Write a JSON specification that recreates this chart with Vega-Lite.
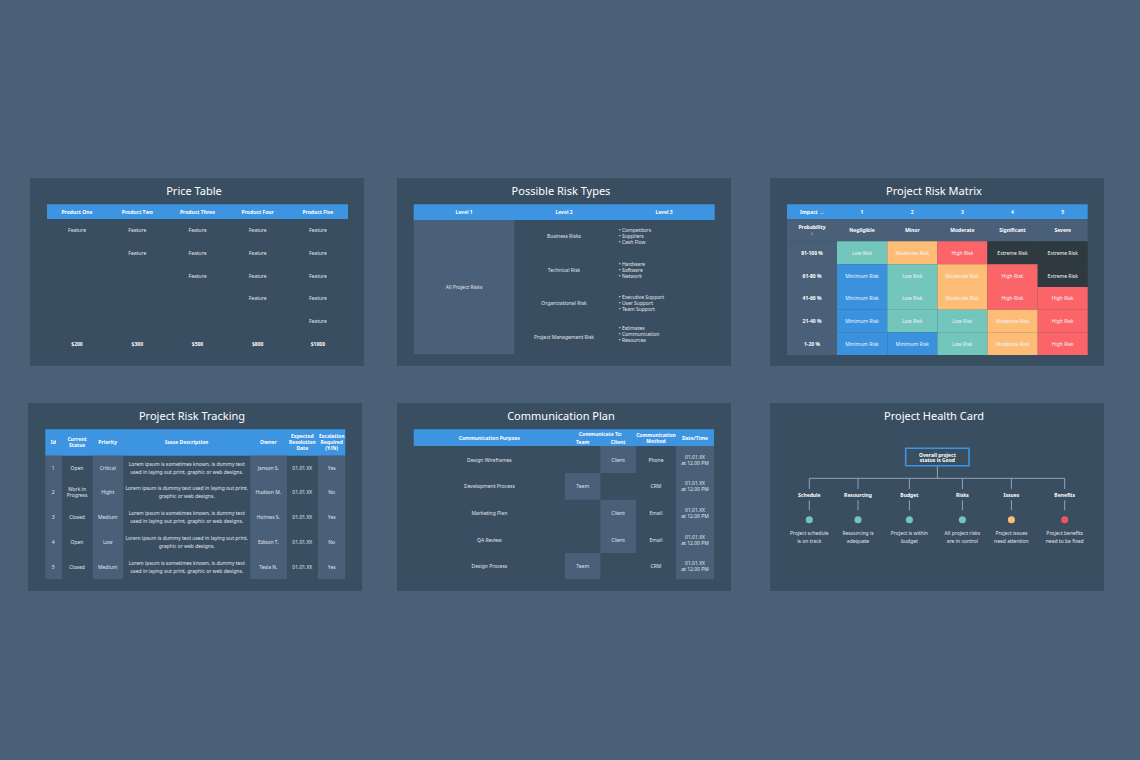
{
  "$schema": "https://vega.github.io/schema/vega-lite/v6.json",
  "background": "#4a6076",
  "padding": {"left": 28, "top": 178, "right": 36, "bottom": 169},
  "spacing": 37,
  "config": {
    "view": {"stroke": null},
    "title": {"font": "Noto Sans", "fontSize": 11, "fontWeight": "normal", "color": "#ffffff", "anchor": "middle", "offset": -18.5, "dx": -3},
    "text": {"font": "Noto Sans", "fontSize": 5, "baseline": "middle", "align": "center", "lineBreak": "\n", "lineHeight": 6, "color": "#e0e6ec"},
    "style": {
      "strong": {"fontWeight": "bold", "color": "#ffffff"},
      "wide": {"lineHeight": 8, "dy": -4},
      "twoLines": {"dy": -3},
      "threeLines": {"dy": -6},
      "list": {"align": "left", "dy": -6},
      "boxed": {"lineHeight": 5, "dy": -2.5},
      "onColour": {"color": "#f2f5f8"}
    }
  },
  "datasets": {
    "priceCells": [
      {"col": -1, "colEnd": 11, "row": -1, "rowEnd": 9, "tone": "slide"},
      {"col": 0, "colEnd": 10, "row": 0, "rowEnd": 2, "tone": "header"}
    ],
    "priceText": [
      {"col": 1, "row": 3, "label": "Feature"},
      {"col": 3, "row": 3, "label": "Feature"},
      {"col": 3, "row": 4, "label": "Feature"},
      {"col": 5, "row": 3, "label": "Feature"},
      {"col": 5, "row": 4, "label": "Feature"},
      {"col": 5, "row": 5, "label": "Feature"},
      {"col": 7, "row": 3, "label": "Feature"},
      {"col": 7, "row": 4, "label": "Feature"},
      {"col": 7, "row": 5, "label": "Feature"},
      {"col": 7, "row": 6, "label": "Feature"},
      {"col": 9, "row": 3, "label": "Feature"},
      {"col": 9, "row": 4, "label": "Feature"},
      {"col": 9, "row": 5, "label": "Feature"},
      {"col": 9, "row": 6, "label": "Feature"},
      {"col": 9, "row": 7, "label": "Feature"}
    ],
    "priceStrong": [
      {"col": 1, "row": 1, "label": "Product One"},
      {"col": 3, "row": 1, "label": "Product Two"},
      {"col": 5, "row": 1, "label": "Product Three"},
      {"col": 7, "row": 1, "label": "Product Four"},
      {"col": 9, "row": 1, "label": "Product Five"},
      {"col": 1, "row": 8, "label": "$200"},
      {"col": 3, "row": 8, "label": "$300"},
      {"col": 5, "row": 8, "label": "$500"},
      {"col": 7, "row": 8, "label": "$800"},
      {"col": 9, "row": 8, "label": "$1000"}
    ],
    "typeCells": [
      {"col": -1, "colEnd": 8, "row": -1, "rowEnd": 10, "tone": "slide"},
      {"col": 0, "colEnd": 7, "row": 0, "rowEnd": 2, "tone": "header"},
      {"col": 0, "colEnd": 2, "row": 2, "rowEnd": 9, "tone": "shade"}
    ],
    "typeText": [
      {"col": 1, "row": 5, "label": "All Project Risks"},
      {"col": 3, "row": 3, "label": "Business Risks"},
      {"col": 3, "row": 4, "label": "Technical Risk"},
      {"col": 3, "row": 6, "label": "Organizational Risk"},
      {"col": 3, "row": 8, "label": "Project Management Risk"}
    ],
    "typeList": [
      {"col": 5, "row": 3, "label": "• Competitors\n• Suppliers\n• Cash Flow"},
      {"col": 5, "row": 4, "label": "• Hardware\n• Software\n• Network"},
      {"col": 5, "row": 6, "label": "• Executive Support\n• User Support\n• Team Support"},
      {"col": 5, "row": 7, "label": "• Estimates\n• Communication\n• Resources"}
    ],
    "typeStrong": [
      {"col": 1, "row": 1, "label": "Level 1"},
      {"col": 3, "row": 1, "label": "Level 2"},
      {"col": 6, "row": 1, "label": "Level 3"}
    ],
    "matrixCells": [
      {"col": -1, "colEnd": 13, "row": -1, "rowEnd": 15, "tone": "slide"},
      {"col": 0, "colEnd": 12, "row": 0, "rowEnd": 2, "tone": "header"},
      {"col": 0, "colEnd": 12, "row": 2, "rowEnd": 4, "tone": "shade"},
      {"col": 0, "colEnd": 2, "row": 4, "rowEnd": 14, "tone": "shade"},
      {"col": 2, "colEnd": 4, "row": 4, "rowEnd": 6, "tone": "low"},
      {"col": 4, "colEnd": 6, "row": 4, "rowEnd": 6, "tone": "moderate"},
      {"col": 6, "colEnd": 8, "row": 4, "rowEnd": 6, "tone": "high"},
      {"col": 8, "colEnd": 10, "row": 4, "rowEnd": 6, "tone": "extreme"},
      {"col": 10, "colEnd": 12, "row": 4, "rowEnd": 6, "tone": "extreme"},
      {"col": 2, "colEnd": 4, "row": 6, "rowEnd": 8, "tone": "minimum"},
      {"col": 4, "colEnd": 6, "row": 6, "rowEnd": 8, "tone": "low"},
      {"col": 6, "colEnd": 8, "row": 6, "rowEnd": 8, "tone": "moderate"},
      {"col": 8, "colEnd": 10, "row": 6, "rowEnd": 8, "tone": "high"},
      {"col": 10, "colEnd": 12, "row": 6, "rowEnd": 8, "tone": "extreme"},
      {"col": 2, "colEnd": 4, "row": 8, "rowEnd": 10, "tone": "minimum"},
      {"col": 4, "colEnd": 6, "row": 8, "rowEnd": 10, "tone": "low"},
      {"col": 6, "colEnd": 8, "row": 8, "rowEnd": 10, "tone": "moderate"},
      {"col": 8, "colEnd": 10, "row": 8, "rowEnd": 10, "tone": "high"},
      {"col": 10, "colEnd": 12, "row": 8, "rowEnd": 10, "tone": "high"},
      {"col": 2, "colEnd": 4, "row": 10, "rowEnd": 12, "tone": "minimum"},
      {"col": 4, "colEnd": 6, "row": 10, "rowEnd": 12, "tone": "low"},
      {"col": 6, "colEnd": 8, "row": 10, "rowEnd": 12, "tone": "low"},
      {"col": 8, "colEnd": 10, "row": 10, "rowEnd": 12, "tone": "moderate"},
      {"col": 10, "colEnd": 12, "row": 10, "rowEnd": 12, "tone": "high"},
      {"col": 2, "colEnd": 4, "row": 12, "rowEnd": 14, "tone": "minimum"},
      {"col": 4, "colEnd": 6, "row": 12, "rowEnd": 14, "tone": "minimum"},
      {"col": 6, "colEnd": 8, "row": 12, "rowEnd": 14, "tone": "low"},
      {"col": 8, "colEnd": 10, "row": 12, "rowEnd": 14, "tone": "moderate"},
      {"col": 10, "colEnd": 12, "row": 12, "rowEnd": 14, "tone": "high"}
    ],
    "matrixText": [
      {"col": 3, "row": 5, "label": "Low Risk"},
      {"col": 5, "row": 5, "label": "Moderate Risk"},
      {"col": 7, "row": 5, "label": "High Risk"},
      {"col": 9, "row": 5, "label": "Extreme Risk"},
      {"col": 11, "row": 5, "label": "Extreme Risk"},
      {"col": 3, "row": 7, "label": "Minimum Risk"},
      {"col": 5, "row": 7, "label": "Low Risk"},
      {"col": 7, "row": 7, "label": "Moderate Risk"},
      {"col": 9, "row": 7, "label": "High Risk"},
      {"col": 11, "row": 7, "label": "Extreme Risk"},
      {"col": 3, "row": 9, "label": "Minimum Risk"},
      {"col": 5, "row": 9, "label": "Low Risk"},
      {"col": 7, "row": 9, "label": "Moderate Risk"},
      {"col": 9, "row": 9, "label": "High Risk"},
      {"col": 11, "row": 9, "label": "High Risk"},
      {"col": 3, "row": 11, "label": "Minimum Risk"},
      {"col": 5, "row": 11, "label": "Low Risk"},
      {"col": 7, "row": 11, "label": "Low Risk"},
      {"col": 9, "row": 11, "label": "Moderate Risk"},
      {"col": 11, "row": 11, "label": "High Risk"},
      {"col": 3, "row": 13, "label": "Minimum Risk"},
      {"col": 5, "row": 13, "label": "Minimum Risk"},
      {"col": 7, "row": 13, "label": "Low Risk"},
      {"col": 9, "row": 13, "label": "Moderate Risk"},
      {"col": 11, "row": 13, "label": "High Risk"}
    ],
    "matrixStrong": [
      {"col": 1, "row": 1, "label": "Impact →"},
      {"col": 3, "row": 1, "label": "1"},
      {"col": 5, "row": 1, "label": "2"},
      {"col": 7, "row": 1, "label": "3"},
      {"col": 9, "row": 1, "label": "4"},
      {"col": 11, "row": 1, "label": "5"},
      {"col": 3, "row": 3, "label": "Negligible"},
      {"col": 5, "row": 3, "label": "Minor"},
      {"col": 7, "row": 3, "label": "Moderate"},
      {"col": 9, "row": 3, "label": "Significant"},
      {"col": 11, "row": 3, "label": "Severe"},
      {"col": 1, "row": 5, "label": "81-100 %"},
      {"col": 1, "row": 7, "label": "61-80 %"},
      {"col": 1, "row": 9, "label": "41-60 %"},
      {"col": 1, "row": 11, "label": "21-40 %"},
      {"col": 1, "row": 13, "label": "1-20 %"}
    ],
    "matrixStrongTwo": [
      {"col": 1, "row": 3, "label": "Probability\n↓"}
    ],
    "trackCells": [
      {"col": -1, "colEnd": 15, "row": -1, "rowEnd": 9, "tone": "slide"},
      {"col": 0, "colEnd": 14, "row": 0, "rowEnd": 2, "tone": "header"},
      {"col": 0, "colEnd": 2, "row": 2, "rowEnd": 8, "tone": "shade"},
      {"col": 4, "colEnd": 6, "row": 2, "rowEnd": 8, "tone": "shade"},
      {"col": 8, "colEnd": 10, "row": 2, "rowEnd": 8, "tone": "shade"},
      {"col": 12, "colEnd": 14, "row": 2, "rowEnd": 8, "tone": "shade"}
    ],
    "trackText": [
      {"col": 1, "row": 3, "label": "1"},
      {"col": 3, "row": 3, "label": "Open"},
      {"col": 5, "row": 3, "label": "Critical"},
      {"col": 9, "row": 3, "label": "Janson S."},
      {"col": 11, "row": 3, "label": "01.01.XX"},
      {"col": 13, "row": 3, "label": "Yes"},
      {"col": 1, "row": 4, "label": "2"},
      {"col": 5, "row": 4, "label": "Hight"},
      {"col": 9, "row": 4, "label": "Hudson M."},
      {"col": 11, "row": 4, "label": "01.01.XX"},
      {"col": 13, "row": 4, "label": "No"},
      {"col": 1, "row": 5, "label": "3"},
      {"col": 3, "row": 5, "label": "Closed"},
      {"col": 5, "row": 5, "label": "Medium"},
      {"col": 9, "row": 5, "label": "Holmes S."},
      {"col": 11, "row": 5, "label": "01.01.XX"},
      {"col": 13, "row": 5, "label": "Yes"},
      {"col": 1, "row": 6, "label": "4"},
      {"col": 3, "row": 6, "label": "Open"},
      {"col": 5, "row": 6, "label": "Low"},
      {"col": 9, "row": 6, "label": "Edison T."},
      {"col": 11, "row": 6, "label": "01.01.XX"},
      {"col": 13, "row": 6, "label": "No"},
      {"col": 1, "row": 7, "label": "5"},
      {"col": 3, "row": 7, "label": "Closed"},
      {"col": 5, "row": 7, "label": "Medium"},
      {"col": 9, "row": 7, "label": "Tesla N."},
      {"col": 11, "row": 7, "label": "01.01.XX"},
      {"col": 13, "row": 7, "label": "Yes"}
    ],
    "trackTextTwo": [
      {"col": 3, "row": 4, "label": "Work in\nProgress"}
    ],
    "trackWide": [
      {"col": 7, "row": 3, "label": "Lorem ipsum is sometimes known, is dummy text\nused in laying out print, graphic or web designs."},
      {"col": 7, "row": 4, "label": "Lorem ipsum is dummy text used in laying out print,\ngraphic or web designs."},
      {"col": 7, "row": 5, "label": "Lorem ipsum is sometimes known, is dummy text\nused in laying out print, graphic or web designs."},
      {"col": 7, "row": 6, "label": "Lorem ipsum is dummy text used in laying out print,\ngraphic or web designs."},
      {"col": 7, "row": 7, "label": "Lorem ipsum is sometimes known, is dummy text\nused in laying out print, graphic or web designs."}
    ],
    "trackStrong": [
      {"col": 1, "row": 1, "label": "Id"},
      {"col": 5, "row": 1, "label": "Priority"},
      {"col": 7, "row": 1, "label": "Issue Description"},
      {"col": 9, "row": 1, "label": "Owner"}
    ],
    "trackStrongTwo": [
      {"col": 3, "row": 1, "label": "Current\nStatus"}
    ],
    "trackStrongThree": [
      {"col": 11, "row": 1, "label": "Expected\nResolution\nDate"},
      {"col": 13, "row": 1, "label": "Escalation\nRequired\n(Y/N)"}
    ],
    "planCells": [
      {"col": -1, "colEnd": 11, "row": -1, "rowEnd": 15, "tone": "slide"},
      {"col": 0, "colEnd": 10, "row": 0, "rowEnd": 4, "tone": "header"},
      {"col": 4, "colEnd": 6, "row": 4, "rowEnd": 6, "tone": "shade"},
      {"col": 2, "colEnd": 4, "row": 6, "rowEnd": 8, "tone": "shade"},
      {"col": 4, "colEnd": 6, "row": 8, "rowEnd": 12, "tone": "shade"},
      {"col": 2, "colEnd": 4, "row": 12, "rowEnd": 14, "tone": "shade"},
      {"col": 8, "colEnd": 10, "row": 4, "rowEnd": 14, "tone": "shade"}
    ],
    "planText": [
      {"col": 1, "row": 5, "label": "Design Wireframes"},
      {"col": 5, "row": 5, "label": "Client"},
      {"col": 7, "row": 5, "label": "Phone"},
      {"col": 1, "row": 7, "label": "Development Process"},
      {"col": 3, "row": 7, "label": "Team"},
      {"col": 7, "row": 7, "label": "CRM"},
      {"col": 1, "row": 9, "label": "Marketing Plan"},
      {"col": 5, "row": 9, "label": "Client"},
      {"col": 7, "row": 9, "label": "Email"},
      {"col": 1, "row": 11, "label": "QA Review"},
      {"col": 5, "row": 11, "label": "Client"},
      {"col": 7, "row": 11, "label": "Email"},
      {"col": 1, "row": 13, "label": "Design Process"},
      {"col": 3, "row": 13, "label": "Team"},
      {"col": 7, "row": 13, "label": "CRM"}
    ],
    "planTextTwo": [
      {"col": 9, "row": 5, "label": "01.01.XX\nat 12.00 PM"},
      {"col": 9, "row": 7, "label": "01.01.XX\nat 12.00 PM"},
      {"col": 9, "row": 9, "label": "01.01.XX\nat 12.00 PM"},
      {"col": 9, "row": 11, "label": "01.01.XX\nat 12.00 PM"},
      {"col": 9, "row": 13, "label": "01.01.XX\nat 12.00 PM"}
    ],
    "planStrong": [
      {"col": 1, "row": 2, "label": "Communication Purpose"},
      {"col": 4, "row": 1, "label": "Communicate To:"},
      {"col": 3, "row": 3, "label": "Team"},
      {"col": 5, "row": 3, "label": "Client"},
      {"col": 9, "row": 2, "label": "Date/Time"}
    ],
    "planStrongTwo": [
      {"col": 7, "row": 2, "label": "Communication\nMethod"}
    ],
    "healthCells": [
      {"col": -1, "colEnd": 9, "row": -1, "rowEnd": 10, "tone": "slide"}
    ],
    "healthBox": [
      {"col": 2, "colEnd": 6, "row": 0, "rowEnd": 2}
    ],
    "healthLines": [
      {"col": 4, "colEnd": 4, "row": 2, "rowEnd": 3},
      {"col": 0, "colEnd": 8, "row": 3, "rowEnd": 3},
      {"col": 0, "colEnd": 0, "row": 3, "rowEnd": 4},
      {"col": 1, "colEnd": 1, "row": 3, "rowEnd": 4},
      {"col": 3, "colEnd": 3, "row": 3, "rowEnd": 4},
      {"col": 5, "colEnd": 5, "row": 3, "rowEnd": 4},
      {"col": 7, "colEnd": 7, "row": 3, "rowEnd": 4},
      {"col": 8, "colEnd": 8, "row": 3, "rowEnd": 4},
      {"col": 0, "colEnd": 0, "row": 6, "rowEnd": 7},
      {"col": 1, "colEnd": 1, "row": 6, "rowEnd": 7},
      {"col": 3, "colEnd": 3, "row": 6, "rowEnd": 7},
      {"col": 5, "colEnd": 5, "row": 6, "rowEnd": 7},
      {"col": 7, "colEnd": 7, "row": 6, "rowEnd": 7},
      {"col": 8, "colEnd": 8, "row": 6, "rowEnd": 7}
    ],
    "healthDots": [
      {"col": 0, "row": 8, "tone": "low"},
      {"col": 1, "row": 8, "tone": "low"},
      {"col": 3, "row": 8, "tone": "low"},
      {"col": 5, "row": 8, "tone": "low"},
      {"col": 7, "row": 8, "tone": "moderate"},
      {"col": 8, "row": 8, "tone": "alert"}
    ],
    "healthWide": [
      {"col": 0, "row": 9, "label": "Project schedule\nis on track"},
      {"col": 1, "row": 9, "label": "Resourcing is\nadequate"},
      {"col": 3, "row": 9, "label": "Project is within\nbudget"},
      {"col": 5, "row": 9, "label": "All project risks\nare in control"},
      {"col": 7, "row": 9, "label": "Project issues\nneed attention"},
      {"col": 8, "row": 9, "label": "Project benefits\nneed to be fixed"}
    ],
    "healthStrong": [
      {"col": 0, "row": 5, "label": "Schedule"},
      {"col": 1, "row": 5, "label": "Resourcing"},
      {"col": 3, "row": 5, "label": "Budget"},
      {"col": 5, "row": 5, "label": "Risks"},
      {"col": 7, "row": 5, "label": "Issues"},
      {"col": 8, "row": 5, "label": "Benefits"}
    ],
    "healthStrongBox": [
      {"col": 4, "row": 1, "label": "Overall project\nstatus is Good"}
    ]
  },
  "vconcat": [
    {
      "spacing": 39,
      "hconcat": [
        {
          "spacing": 33,
          "hconcat": [
            {
              "width": 336,
              "height": 188,
              "title": {"text": "Price Table", "dx": -2},
              "encoding": {
                "x": {"field": "col", "type": "quantitative", "axis": null, "scale": {"nice": false, "zero": false, "domain": [-1, 0, 1, 2, 3, 4, 5, 6, 7, 8, 9, 10, 11], "range": [2, 19, 49, 79, 109.3, 139.4, 169.5, 199.6, 229.7, 259.8, 289.9, 320, 336]}},
                "y": {"field": "row", "type": "quantitative", "axis": null, "scale": {"nice": false, "zero": false, "domain": [-1, 0, 1, 2, 3, 4, 5, 6, 7, 8, 9], "range": [0, 26.3, 33.7, 41, 52.3, 75, 97.7, 120.3, 143, 165.7, 188]}}
              },
              "layer": [
                {
                  "data": {"name": "priceCells"},
                  "mark": "rect",
                  "encoding": {
                    "x2": {"field": "colEnd"},
                    "y2": {"field": "rowEnd"},
                    "color": {"field": "tone", "type": "nominal", "legend": null, "scale": {"domain": ["slide", "header", "shade", "low", "moderate", "high", "extreme", "minimum", "alert"], "range": ["#3a4e61", "#3d94e0", "#4a5f78", "#72c6bc", "#fdbd77", "#fb6469", "#2f3a40", "#3a91de", "#ef575c"]}}
                  }
                },
                {"data": {"name": "priceText"}, "mark": "text", "encoding": {"text": {"field": "label"}}},
                {"data": {"name": "priceStrong"}, "mark": {"type": "text", "style": "strong"}, "encoding": {"text": {"field": "label"}}}
              ]
            },
            {
              "width": 334,
              "height": 188,
              "title": "Possible Risk Types",
              "encoding": {
                "x": {"field": "col", "type": "quantitative", "axis": null, "scale": {"nice": false, "zero": false, "domain": [-1, 0, 1, 2, 3, 4, 5, 6, 7, 8], "range": [0, 16.7, 67, 117.3, 167, 217.4, 221.7, 267, 317.7, 334]}},
                "y": {"field": "row", "type": "quantitative", "axis": null, "scale": {"nice": false, "zero": false, "domain": [-1, 0, 1, 2, 3, 4, 5, 6, 7, 8, 9, 10], "range": [0, 26.3, 34, 42, 58.3, 92, 109, 125.3, 156.3, 159.3, 176, 188]}}
              },
              "layer": [
                {
                  "data": {"name": "typeCells"},
                  "mark": "rect",
                  "encoding": {
                    "x2": {"field": "colEnd"},
                    "y2": {"field": "rowEnd"},
                    "color": {"field": "tone", "type": "nominal", "legend": null, "scale": {"domain": ["slide", "header", "shade", "low", "moderate", "high", "extreme", "minimum", "alert"], "range": ["#3a4e61", "#3d94e0", "#4a5f78", "#72c6bc", "#fdbd77", "#fb6469", "#2f3a40", "#3a91de", "#ef575c"]}}
                  }
                },
                {"data": {"name": "typeText"}, "mark": "text", "encoding": {"text": {"field": "label"}}},
                {"data": {"name": "typeList"}, "mark": {"type": "text", "style": "list"}, "encoding": {"text": {"field": "label"}}},
                {"data": {"name": "typeStrong"}, "mark": {"type": "text", "style": "strong"}, "encoding": {"text": {"field": "label"}}}
              ]
            }
          ]
        },
        {
          "width": 334,
          "height": 188,
          "title": "Project Risk Matrix",
          "encoding": {
            "x": {"field": "col", "type": "quantitative", "axis": null, "scale": {"nice": false, "zero": false, "domain": [-1, 0, 1, 2, 3, 4, 5, 6, 7, 8, 9, 10, 11, 12, 13], "range": [0, 17, 42, 67, 92, 117.3, 142.3, 167.4, 192.4, 217.4, 242.5, 267.7, 292.7, 317.7, 334]}},
            "y": {"field": "row", "type": "quantitative", "axis": null, "scale": {"nice": false, "zero": false, "domain": [-1, 0, 1, 2, 3, 4, 5, 6, 7, 8, 9, 10, 11, 12, 13, 14, 15], "range": [0, 26.3, 33.8, 41.3, 52.3, 63.3, 74.8, 86.3, 97.7, 109, 120.3, 131.7, 143, 154.3, 165.7, 177, 188]}}
          },
          "layer": [
            {
              "data": {"name": "matrixCells"},
              "mark": "rect",
              "encoding": {
                "x2": {"field": "colEnd"},
                "y2": {"field": "rowEnd"},
                "color": {"field": "tone", "type": "nominal", "legend": null, "scale": {"domain": ["slide", "header", "shade", "low", "moderate", "high", "extreme", "minimum", "alert"], "range": ["#3a4e61", "#3d94e0", "#4a5f78", "#72c6bc", "#fdbd77", "#fb6469", "#2f3a40", "#3a91de", "#ef575c"]}}
              }
            },
            {"data": {"name": "matrixText"}, "mark": {"type": "text", "style": "onColour"}, "encoding": {"text": {"field": "label"}}},
            {"data": {"name": "matrixStrong"}, "mark": {"type": "text", "style": "strong"}, "encoding": {"text": {"field": "label"}}},
            {"data": {"name": "matrixStrongTwo"}, "mark": {"type": "text", "style": ["strong", "twoLines"]}, "encoding": {"text": {"field": "label"}}}
          ]
        }
      ]
    },
    {
      "spacing": 39,
      "hconcat": [
        {
          "spacing": 35,
          "hconcat": [
            {
              "width": 334,
              "height": 188,
              "title": "Project Risk Tracking",
              "encoding": {
                "x": {"field": "col", "type": "quantitative", "axis": null, "scale": {"nice": false, "zero": false, "domain": [-1, 0, 1, 2, 3, 4, 5, 6, 7, 8, 9, 10, 11, 12, 13, 14, 15], "range": [0, 17.3, 25.3, 34, 49, 64.7, 79.7, 95.3, 158.7, 222.3, 240.3, 259, 274.3, 290, 303.7, 317.3, 334]}},
                "y": {"field": "row", "type": "quantitative", "axis": null, "scale": {"nice": false, "zero": false, "domain": [-1, 0, 1, 2, 3, 4, 5, 6, 7, 8, 9], "range": [0, 26.3, 39.3, 52.7, 64.7, 89.3, 114.3, 139, 163.7, 176, 188]}}
              },
              "layer": [
                {
                  "data": {"name": "trackCells"},
                  "mark": "rect",
                  "encoding": {
                    "x2": {"field": "colEnd"},
                    "y2": {"field": "rowEnd"},
                    "color": {"field": "tone", "type": "nominal", "legend": null, "scale": {"domain": ["slide", "header", "shade", "low", "moderate", "high", "extreme", "minimum", "alert"], "range": ["#3a4e61", "#3d94e0", "#4a5f78", "#72c6bc", "#fdbd77", "#fb6469", "#2f3a40", "#3a91de", "#ef575c"]}}
                  }
                },
                {"data": {"name": "trackText"}, "mark": "text", "encoding": {"text": {"field": "label"}}},
                {"data": {"name": "trackTextTwo"}, "mark": {"type": "text", "style": "twoLines"}, "encoding": {"text": {"field": "label"}}},
                {"data": {"name": "trackWide"}, "mark": {"type": "text", "style": "wide"}, "encoding": {"text": {"field": "label"}}},
                {"data": {"name": "trackStrong"}, "mark": {"type": "text", "style": "strong"}, "encoding": {"text": {"field": "label"}}},
                {"data": {"name": "trackStrongTwo"}, "mark": {"type": "text", "style": ["strong", "twoLines"]}, "encoding": {"text": {"field": "label"}}},
                {"data": {"name": "trackStrongThree"}, "mark": {"type": "text", "style": ["strong", "threeLines"]}, "encoding": {"text": {"field": "label"}}}
              ]
            },
            {
              "width": 334,
              "height": 188,
              "title": "Communication Plan",
              "encoding": {
                "x": {"field": "col", "type": "quantitative", "axis": null, "scale": {"nice": false, "zero": false, "domain": [-1, 0, 1, 2, 3, 4, 5, 6, 7, 8, 9, 10, 11], "range": [0, 16.7, 92.4, 168, 185.7, 203.4, 221, 239, 259, 279, 298, 317, 334]}},
                "y": {"field": "row", "type": "quantitative", "axis": null, "scale": {"nice": false, "zero": false, "domain": [-1, 0, 1, 2, 3, 4, 5, 6, 7, 8, 9, 10, 11, 12, 13, 14, 15], "range": [0, 26.3, 30.7, 34.7, 39, 43, 56.7, 70, 83.3, 96.7, 110, 123.3, 136.7, 150, 163.3, 176.3, 188]}}
              },
              "layer": [
                {
                  "data": {"name": "planCells"},
                  "mark": "rect",
                  "encoding": {
                    "x2": {"field": "colEnd"},
                    "y2": {"field": "rowEnd"},
                    "color": {"field": "tone", "type": "nominal", "legend": null, "scale": {"domain": ["slide", "header", "shade", "low", "moderate", "high", "extreme", "minimum", "alert"], "range": ["#3a4e61", "#3d94e0", "#4a5f78", "#72c6bc", "#fdbd77", "#fb6469", "#2f3a40", "#3a91de", "#ef575c"]}}
                  }
                },
                {"data": {"name": "planText"}, "mark": "text", "encoding": {"text": {"field": "label"}}},
                {"data": {"name": "planTextTwo"}, "mark": {"type": "text", "style": "twoLines"}, "encoding": {"text": {"field": "label"}}},
                {"data": {"name": "planStrong"}, "mark": {"type": "text", "style": "strong"}, "encoding": {"text": {"field": "label"}}},
                {"data": {"name": "planStrongTwo"}, "mark": {"type": "text", "style": ["strong", "twoLines"]}, "encoding": {"text": {"field": "label"}}}
              ]
            }
          ]
        },
        {
          "width": 334,
          "height": 188,
          "title": "Project Health Card",
          "encoding": {
            "x": {"field": "col", "type": "quantitative", "axis": null, "scale": {"nice": false, "zero": false, "domain": [-1, 0, 1, 2, 3, 4, 5, 6, 7, 8, 9], "range": [0, 39.3, 88, 135.7, 139.4, 167.4, 192.4, 199, 241.4, 294.7, 334]}},
            "y": {"field": "row", "type": "quantitative", "axis": null, "scale": {"nice": false, "zero": false, "domain": [-1, 0, 1, 2, 3, 4, 5, 6, 7, 8, 9, 10], "range": [0, 45.3, 54.3, 62.7, 75.3, 86, 91.7, 97.3, 107.3, 116.7, 134, 188]}}
          },
          "layer": [
            {
              "data": {"name": "healthCells"},
              "mark": "rect",
              "encoding": {
                "x2": {"field": "colEnd"},
                "y2": {"field": "rowEnd"},
                "color": {"field": "tone", "type": "nominal", "legend": null, "scale": {"domain": ["slide", "header", "shade", "low", "moderate", "high", "extreme", "minimum", "alert"], "range": ["#3a4e61", "#3d94e0", "#4a5f78", "#72c6bc", "#fdbd77", "#fb6469", "#2f3a40", "#3a91de", "#ef575c"]}}
              }
            },
            {
              "data": {"name": "healthLines"},
              "mark": {"type": "rule", "color": "#93a5b6", "strokeWidth": 1},
              "encoding": {"x2": {"field": "colEnd"}, "y2": {"field": "rowEnd"}}
            },
            {
              "data": {"name": "healthBox"},
              "mark": {"type": "rect", "filled": false, "stroke": "#3d94e0", "strokeWidth": 1.6},
              "encoding": {"x2": {"field": "colEnd"}, "y2": {"field": "rowEnd"}}
            },
            {
              "data": {"name": "healthDots"},
              "mark": {"type": "circle", "size": 50, "opacity": 1},
              "encoding": {
                "color": {"field": "tone", "type": "nominal", "legend": null, "scale": {"domain": ["slide", "header", "shade", "low", "moderate", "high", "extreme", "minimum", "alert"], "range": ["#3a4e61", "#3d94e0", "#4a5f78", "#72c6bc", "#fdbd77", "#fb6469", "#2f3a40", "#3a91de", "#ef575c"]}}
              }
            },
            {"data": {"name": "healthWide"}, "mark": {"type": "text", "style": "wide"}, "encoding": {"text": {"field": "label"}}},
            {"data": {"name": "healthStrong"}, "mark": {"type": "text", "style": "strong"}, "encoding": {"text": {"field": "label"}}},
            {"data": {"name": "healthStrongBox"}, "mark": {"type": "text", "style": ["strong", "boxed"]}, "encoding": {"text": {"field": "label"}}}
          ]
        }
      ]
    }
  ]
}
